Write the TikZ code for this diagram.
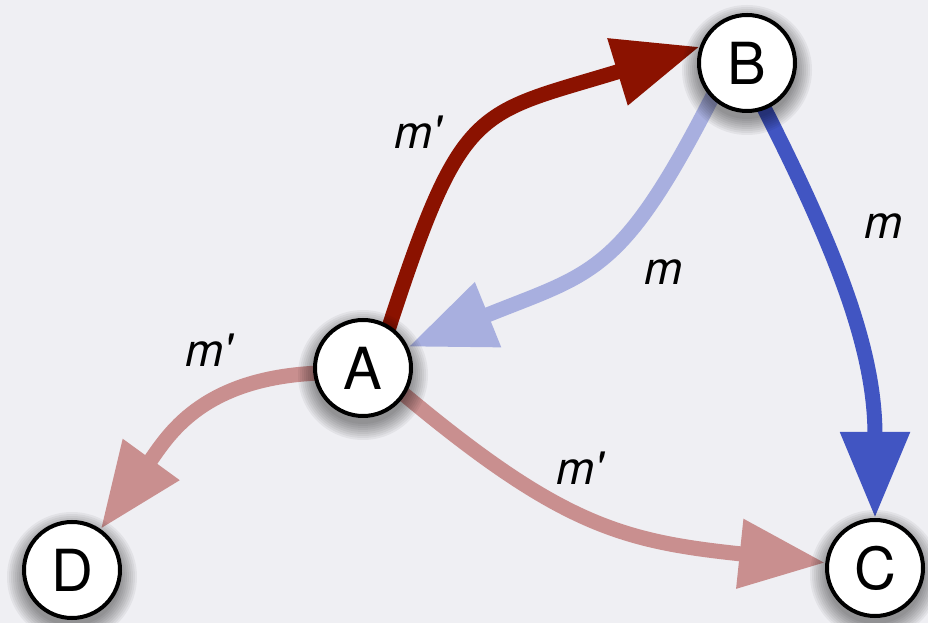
\documentclass[tikz,border=0pt]{standalone}
\usepackage{fontspec}
\setmainfont{TeX Gyre Heros}
\usetikzlibrary{arrows.meta}
\definecolor{bgc}{RGB}{239,239,243}
\definecolor{redc}{RGB}{139,18,0}
\definecolor{lbluec}{RGB}{168,175,223}
\definecolor{bluec}{RGB}{65,85,194}
\definecolor{pinkc}{RGB}{201,143,143}
\pgfdeclarelayer{bg}
\pgfdeclarelayer{edges}
\pgfsetlayers{bg,edges,main}
\newcommand{\softshadow}[1]{%
  \foreach \r in {49,51,...,65}{\fill[black,opacity=0.05] ([yshift=-7pt]#1) circle (\r pt);}}
\begin{document}
\begin{tikzpicture}[x=1pt,y=1pt,
  vnode/.style={circle,draw=black,line width=4pt,fill=white,minimum size=96pt,inner sep=0pt,
    font=\fontsize{58}{60}\selectfont},
  edge/.style={line width=15pt,shorten <=-8pt,-{Triangle[length=86pt,width=66pt]}},
  lbl/.style={font=\fontsize{46}{48}\selectfont\itshape,inner sep=0pt}]
\begin{pgfonlayer}{bg}
\fill[bgc] (0,0) rectangle (928,623);
\end{pgfonlayer}
\useasboundingbox (0,0) rectangle (928,623);
\coordinate (a) at (363,255);
\coordinate (b) at (747,560);
\coordinate (c) at (875,55);
\coordinate (d) at (72,53);
\softshadow{a}
\softshadow{b}
\softshadow{c}
\softshadow{d}
\node[vnode] (A) at (a) {A};
\node[vnode] (B) at (b) {B};
\node[vnode] (C) at (c) {C};
\node[vnode] (D) at (d) {D};
\begin{pgfonlayer}{edges}
\draw[edge,redc] (A.58) to[out=72,in=197,looseness=1.45] (B.161);
\draw[edge,lbluec] (B.225) to[out=243,in=22,looseness=1.3] (A.25);
\draw[edge,bluec] (B.291) to[out=-63,in=90] (C.90);
\draw[edge,pinkc] (A.-33) to[out=-40,in=174,looseness=1.15] (C.174);
\draw[edge,pinkc] (A.186) to[out=182,in=54,looseness=1.1] (D.55);
\end{pgfonlayer}
\node[lbl] (l1) at (418,491) {m\textquotesingle};
\node[lbl] (l2) at (664,351) {m};
\node[lbl] (l3) at (884,397) {m};
\node[lbl] (l4) at (209,273) {m\textquotesingle};
\node[lbl] (l5) at (580,155) {m\textquotesingle};
\end{tikzpicture}
\end{document}
